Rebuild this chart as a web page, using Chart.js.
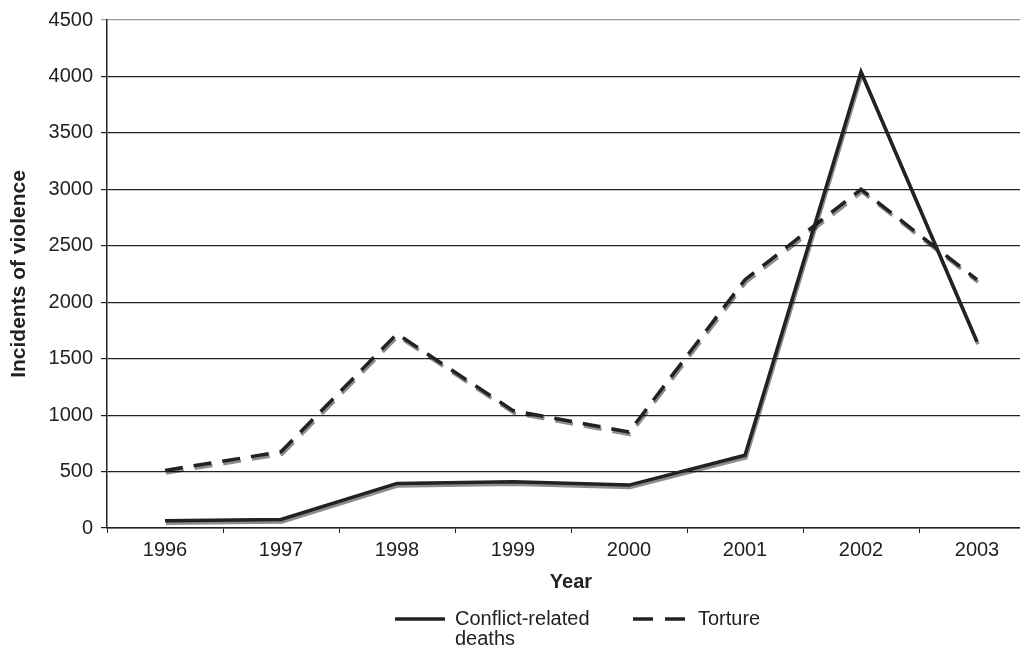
<!DOCTYPE html>
<html>
<head>
<meta charset="utf-8">
<script src="https://cdn.jsdelivr.net/npm/chart.js@4.4.1/dist/chart.umd.min.js"></script>
<style>
  html, body { margin: 0; padding: 0; background: #fff; overflow: hidden; }
  #wrap { position: relative; width: 1035px; height: 649px; }
</style>
</head>
<body>
<div id="wrap"><canvas id="myChart"></canvas></div>
<script>
const years = ['1996', '1997', '1998', '1999', '2000', '2001', '2002', '2003'];
const conflictDeaths = [65, 75, 395, 410, 380, 645, 4040, 1650];
const torture = [510, 675, 1720, 1040, 850, 2200, 3000, 2200];
const yTicks = [0, 500, 1000, 1500, 2000, 2500, 3000, 3500, 4000, 4500];

const FONT = "'Liberation Sans', Arial, sans-serif";
const INK = '#222';

// grey drop shadow under each line, like the printed original
const shadowPlugin = {
  id: 'shadow',
  beforeDatasetDraw(chart) {
    const c = chart.ctx;
    c.save();
    c.shadowColor = 'rgba(0,0,0,0.45)';
    c.shadowOffsetX = 1;
    c.shadowOffsetY = 2.5;
    c.shadowBlur = 0;
  },
  afterDatasetDraw(chart) {
    chart.ctx.restore();
  }
};

// legend under the axis title, first label on two lines
const legendPlugin = {
  id: 'bottomLegend',
  afterDraw(chart) {
    const c = chart.ctx;
    const items = [
      { lines: ['Conflict-related', 'deaths'], dash: [], x0: 395, x1: 445, tx: 455 },
      { lines: ['Torture'], dash: [20, 12], x0: 633, x1: 685, tx: 698 }
    ];
    const y = 619;
    c.save();
    c.font = '20px ' + FONT;
    c.fillStyle = INK;
    c.textBaseline = 'middle';
    items.forEach(it => {
      c.strokeStyle = INK;
      c.lineWidth = 3.5;
      c.setLineDash(it.dash);
      c.beginPath();
      c.moveTo(it.x0, y);
      c.lineTo(it.x1, y);
      c.stroke();
      it.lines.forEach((t, i) => c.fillText(t, it.tx, y + i * 20));
    });
    c.restore();
  }
};

const ctx = document.getElementById('myChart');

new Chart(ctx, {
  type: 'line',
  data: {
    labels: years,
    datasets: [{
      label: 'Conflict-related deaths',
      data: conflictDeaths,
      borderColor: INK,
      borderWidth: 3.5,
      pointRadius: 0,
      tension: 0
    }, {
      label: 'Torture',
      data: torture,
      borderColor: INK,
      borderWidth: 3.5,
      borderDash: [18, 11],
      pointRadius: 0,
      tension: 0
    }]
  },
  options: {
    responsive: true,
    maintainAspectRatio: false,
    animation: false,
    layout: { padding: { top: 20, right: 0, bottom: 55, left: 0 } },
    plugins: {
      legend: { display: false },
      tooltip: { enabled: false }
    },
    scales: {
      x: {
        offset: true,
        grid: {
          offset: true,
          drawOnChartArea: false,
          drawTicks: true,
          tickLength: 5,
          color: INK
        },
        border: { color: INK, width: 1.5 },
        ticks: {
          color: INK,
          font: { family: FONT, size: 20 },
          padding: 5,
          maxRotation: 0,
          autoSkip: false
        },
        title: {
          display: true,
          text: 'Year',
          color: INK,
          font: { family: FONT, size: 20, weight: 'bold' },
          padding: { top: 3, bottom: 0 }
        }
      },
      y: {
        min: 0,
        max: 4500,
        afterBuildTicks(scale) {
          scale.ticks = yTicks.map(v => ({ value: v }));
        },
        afterFit(scale) {
          scale.width = 107;
        },
        grid: {
          color: ctx => ctx.tick && ctx.tick.value === 4500 ? '#999' : INK,
          lineWidth: 1.2,
          tickLength: 6
        },
        border: { color: INK, width: 1.5 },
        ticks: {
          color: INK,
          font: { family: FONT, size: 20 },
          padding: 8,
          callback: v => String(v)
        },
        title: {
          display: true,
          text: 'Incidents of violence',
          color: INK,
          font: { family: FONT, size: 21, weight: 'bold' },
          padding: { top: 7, bottom: 0 }
        }
      }
    }
  },
  plugins: [shadowPlugin, legendPlugin]
});
</script>
</body>
</html>
